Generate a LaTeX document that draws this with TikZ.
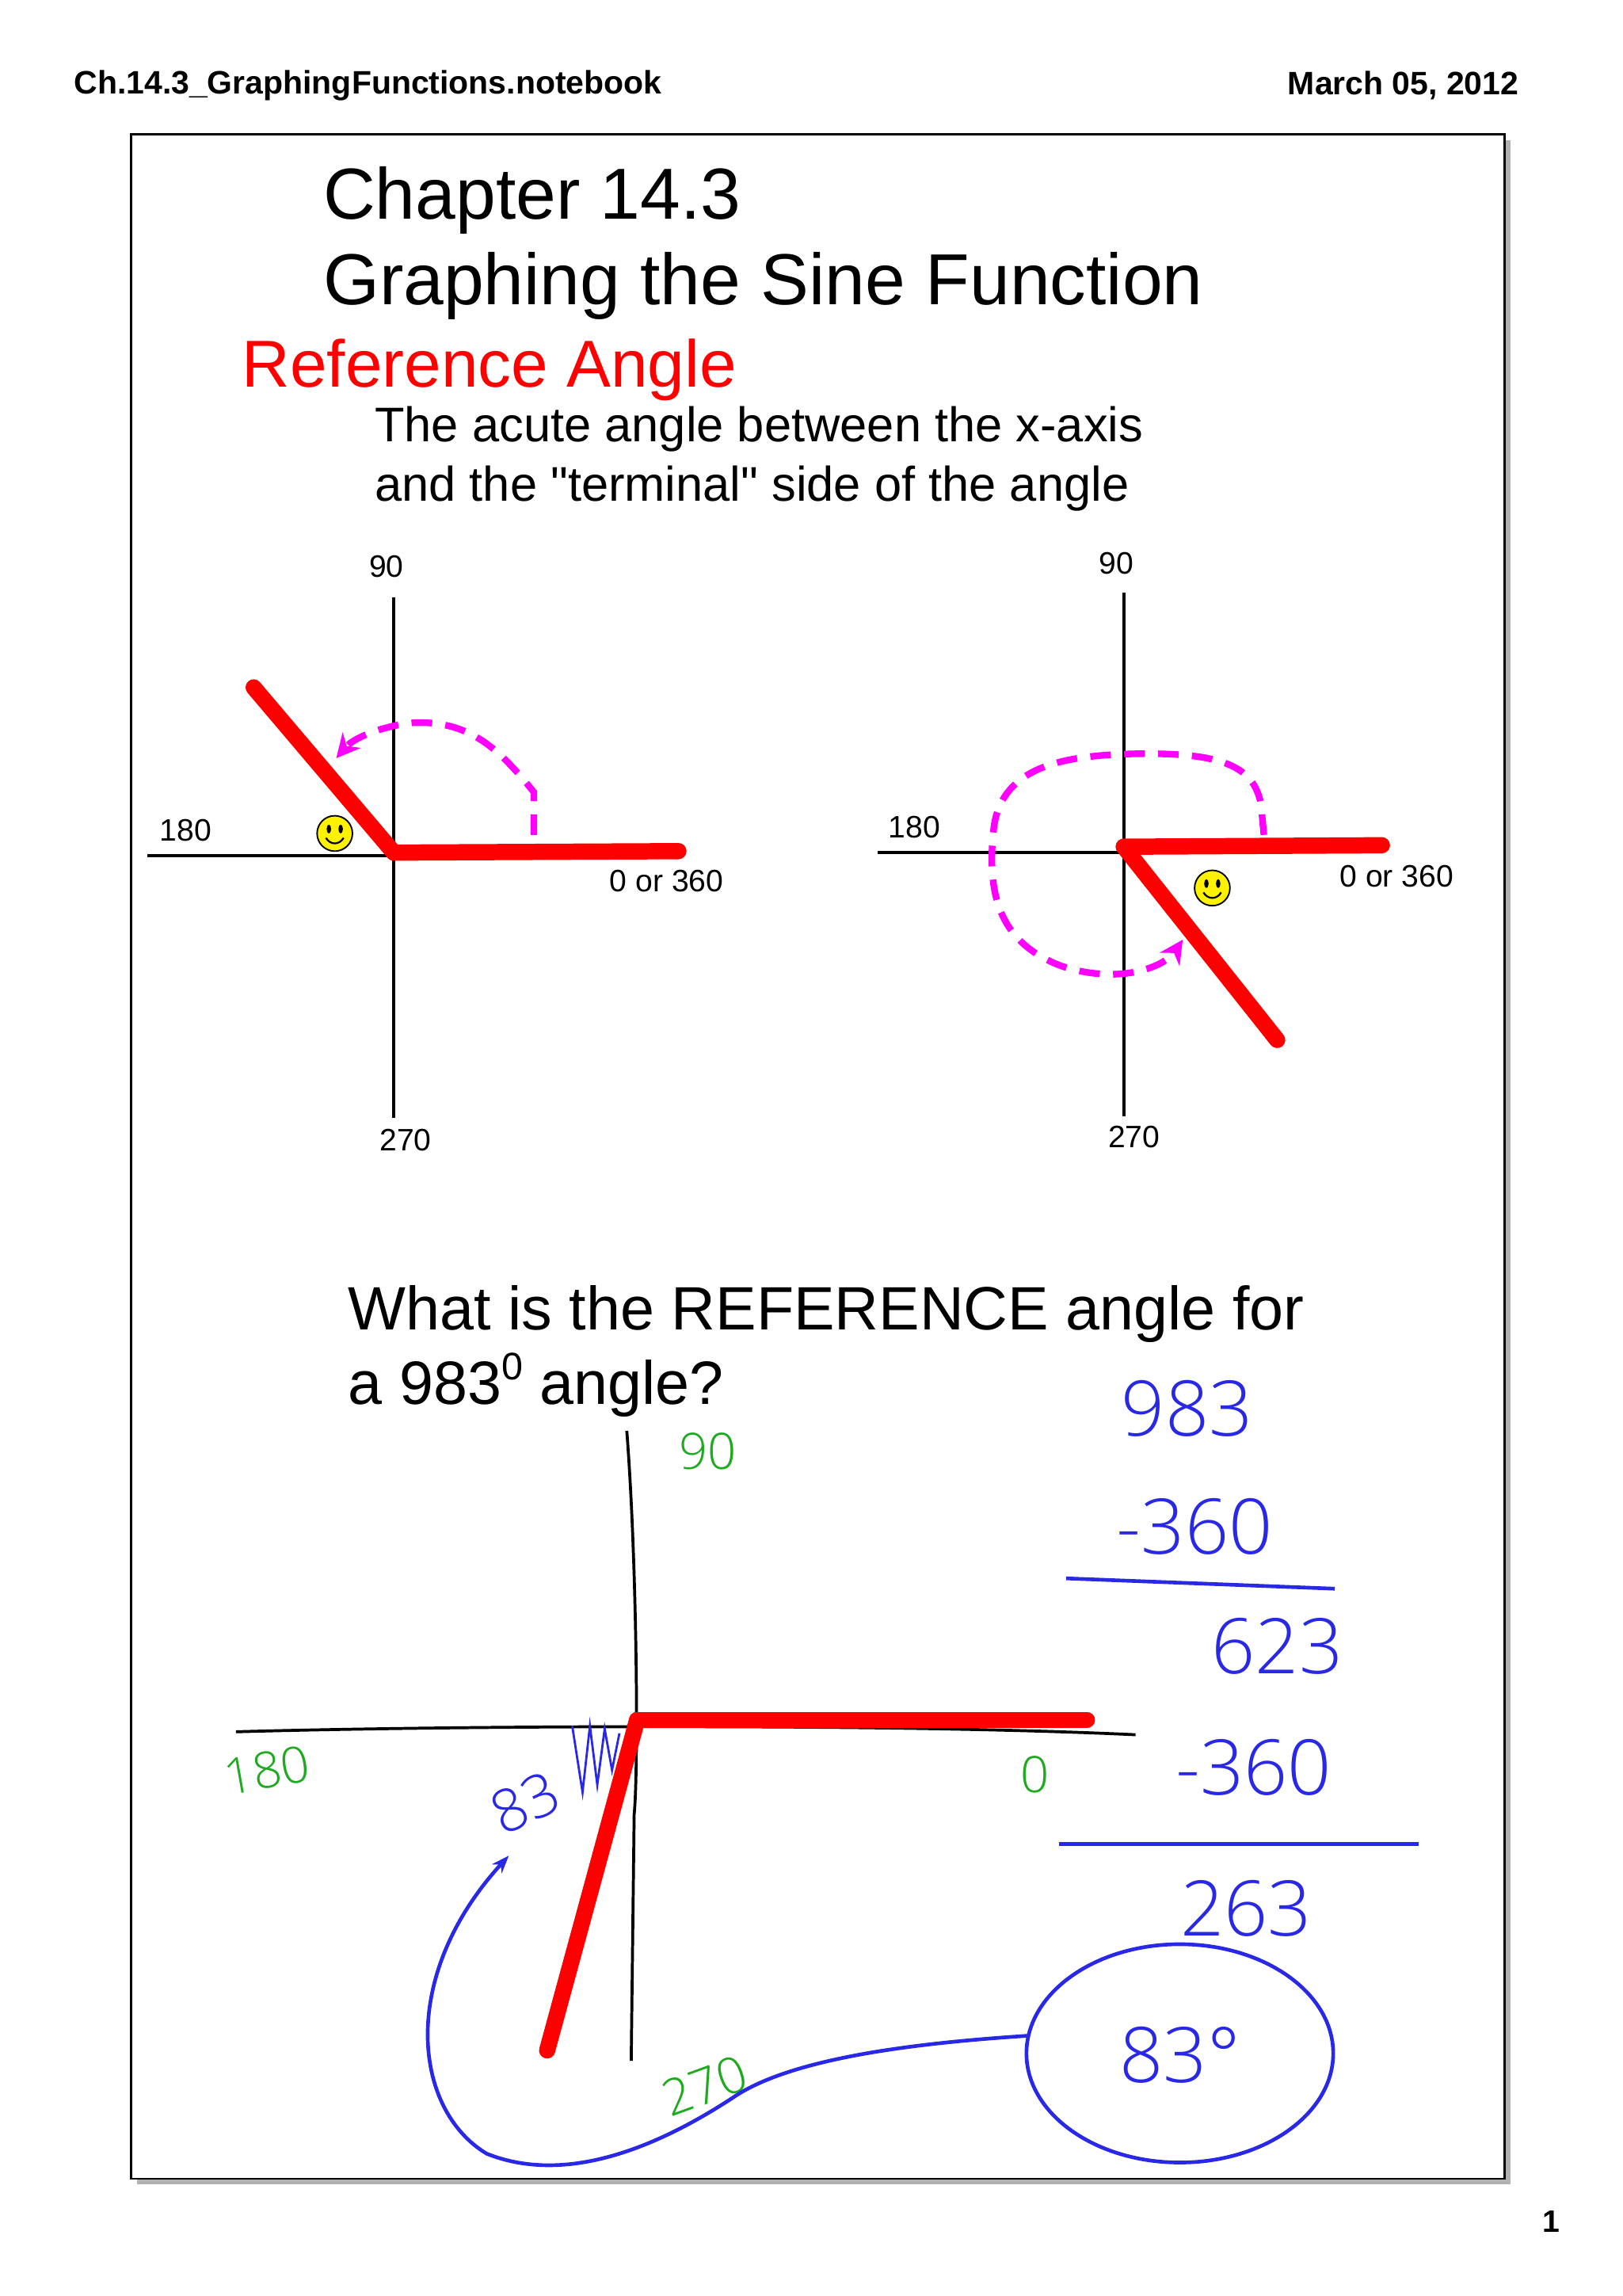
\documentclass[tikz,border=0pt]{standalone}
\usepackage{fontspec}
\setmainfont{Liberation Sans}
\newfontfamily\plainq{Liberation Sans}
\newfontfamily\hand{Open Sans Light}
\usetikzlibrary{arrows.meta,calc}
\definecolor{mag}{RGB}{255,0,255}
\definecolor{hblue}{RGB}{40,40,230}
\definecolor{hgreen}{RGB}{30,170,30}
\tikzset{
 ax/.style={line width=2.2pt,black},
 redl/.style={line width=11pt,red,line cap=round},
 magd/.style={line width=4.5pt,mag,dash pattern=on 14pt off 9pt},
 lbl/.style={font=\fontsize{21}{24}\selectfont,inner sep=0pt},
 blu/.style={hblue,line width=2.5pt},
 bt/.style={hblue,font=\hand\fontsize{52}{54}\selectfont,inner sep=0pt},
 gt/.style={hgreen,font=\hand\fontsize{34}{36}\selectfont,inner sep=0pt},
 smile/.style={circle,draw=black,fill=yellow,minimum size=24pt,inner sep=0pt,line width=1pt}
}
\newcommand{\smiley}[1]{%
 \fill[black] ($(#1)+(-4,-3)$) ellipse (1.5 and 3);
 \fill[black] ($(#1)+(4,-3)$) ellipse (1.5 and 3);
 \draw[black,line width=1.2pt] ($(#1)+(-6,3)$) .. controls ($(#1)+(-3,8)$) and ($(#1)+(3,8)$) .. ($(#1)+(6,3)$);}
\begin{document}
\begin{tikzpicture}[x=1pt,y=-1pt]
\useasboundingbox (0,0) rectangle (1100,1556.5);
\fill[white] (0,0) rectangle (1100,1556.5);
% header
\node[anchor=west,font=\bfseries\fontsize{22}{24}\selectfont,inner sep=0] (hd) at (50,58) {Ch.14.3\_GraphingFunctions.notebook};
\node[anchor=east,font=\bfseries\fontsize{22}{24}\selectfont,inner sep=0] (dt) at (1030,58) {March 05, 2012};
\node[font=\bfseries\fontsize{21}{22}\selectfont,inner sep=0] (pg) at (1052,1506) {1};
% frame
\fill[gray!60] (93,95) rectangle (1024,1481);
\draw[line width=1.5pt,fill=white] (89,91) rectangle (1020,1477);
% titles
\node[anchor=west,font=\fontsize{49}{52}\selectfont,inner sep=0] (t1) at (219,136) {Chapter 14.3};
\node[anchor=west,font=\fontsize{49}{52}\selectfont,inner sep=0] (t2) at (219,194) {Graphing the Sine Function};
\node[anchor=west,red,font=\fontsize{45}{48}\selectfont,inner sep=0] (t3) at (164,251) {Reference Angle};
\node[anchor=west,font=\fontsize{33}{36}\selectfont,inner sep=0] (t4) at (254,291) {The acute angle between the x-axis};
\node[anchor=west,font=\fontsize{33}{36}\selectfont,inner sep=0] (t5) at (254,331) {and the {\plainq"}terminal{\plainq"} side of the angle};
% left diagram
\coordinate (lo) at (267,578);
\draw[ax] (100,580) -- (267,580);
\draw[ax] (267,405) -- (267,758);
\draw[magd,-{Stealth[length=16pt,width=16pt]}] (362,566) -- (362,537) .. controls (340,510) and (320,488) .. (280,490) .. controls (260,492) and (240,500) .. (228,514);
\draw[redl] (lo) -- (460,577);
\draw[redl] (lo) -- (172,466);
\node[smile] (s1) at (227,565) {};
\smiley{s1}
\node[lbl] at (262,384) {90};
\node[lbl] at (126,563) {180};
\node[lbl] at (452,597) {0 or 360};
\node[lbl] at (275,773) {270};
% right diagram
\coordinate (ro) at (762,574);
\draw[ax] (595,578) -- (762,578);
\draw[ax] (762,402) -- (762,757);
\draw[magd,-{Stealth[length=16pt,width=16pt]}] (857,566) -- (855,545) .. controls (850,520) and (830,510) .. (770,511) .. controls (720,512) and (680,520) .. (674,560) .. controls (668,610) and (680,640) .. (720,655) .. controls (760,668) and (790,655) .. (802,637);
\draw[redl] (ro) -- (937,573);
\draw[redl] (ro) -- (866,705);
\node[smile] (s2) at (822,602) {};
\smiley{s2}
\node[lbl] at (757,382) {90};
\node[lbl] at (620,561) {180};
\node[lbl] at (947,594) {0 or 360};
\node[lbl] at (769,771) {270};
% question
\node[anchor=west,font=\fontsize{41.5}{44}\selectfont,inner sep=0] (q1) at (236,891) {What is the REFERENCE angle for};
\node[anchor=west,font=\fontsize{41.5}{44}\selectfont,inner sep=0] (q2) at (236,939) {a 983\raisebox{0.75ex}{\fontsize{26}{28}\selectfont 0} angle?};
% bottom axes
\draw[line width=2pt] (425,970) .. controls (432,1060) and (433,1200) .. (430,1230) -- (428,1397);
\draw[line width=2pt] (160,1174) .. controls (300,1170) and (600,1168) .. (770,1176);
\draw[redl] (432,1166) -- (737,1166);
\draw[redl] (432,1166) -- (371,1390);
\node[gt] at (480,984) {90};
\node[gt,rotate=10] at (181,1200) {180};
\node[gt] at (702,1203) {0};
\node[gt,rotate=20] at (478,1414) {270};
% blue work
\node[bt] at (805,955) {983};
\node[bt] at (810,1035) {-360};
\draw[blu] (723,1070) -- (905,1077);
\node[bt] at (866,1116) {623};
\node[bt] at (850,1198) {-360};
\draw[blu] (718,1250) -- (962,1250);
\node[bt] at (845,1294) {263};
\node[bt] at (800,1393) {83°};
\draw[blu] (800,1392) ellipse (104 and 74);
\node[bt,font=\hand\fontsize{40}{42}\selectfont,rotate=25] at (356,1222) {83};
\draw[blu,line width=1.5pt] (388,1170) -- (395,1215) -- (400,1170) -- (405,1210) -- (410,1172) -- (415,1200) -- (420,1175);
\draw[blu,-{Stealth[length=12pt]}] (698,1380) .. controls (620,1385) and (540,1395) .. (500,1420) .. controls (440,1460) and (380,1480) .. (330,1460) .. controls (280,1430) and (270,1340) .. (345,1258);
\end{tikzpicture}
\end{document}
